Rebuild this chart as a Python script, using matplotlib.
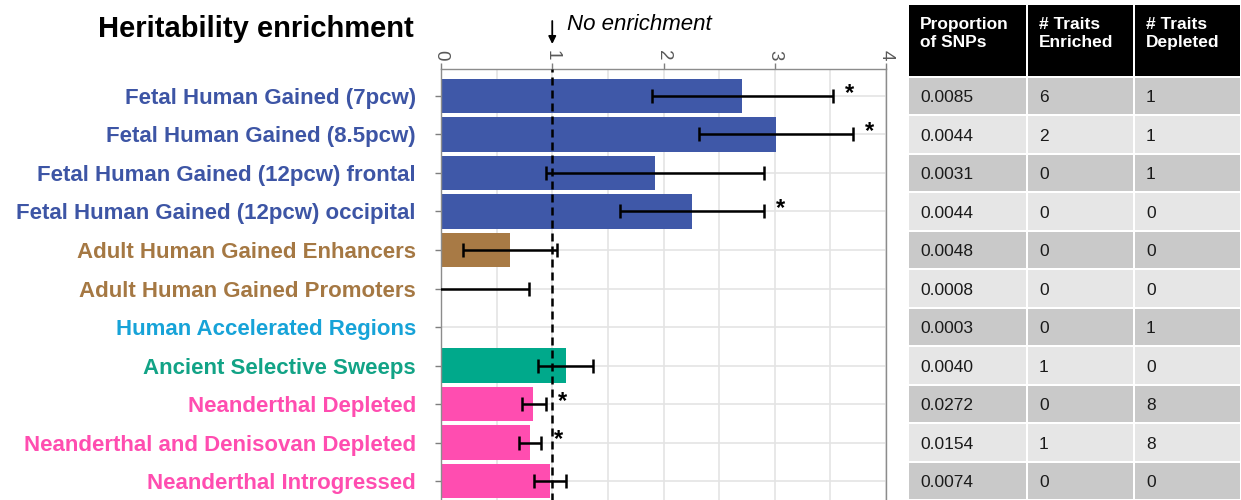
import matplotlib
matplotlib.use("Agg")
import matplotlib.pyplot as plt
import numpy as np
from matplotlib.patches import Rectangle

plt.rcParams['font.family'] = ['Liberation Sans', 'DejaVu Sans']

# ---------------- data ----------------
categories = [
    "Fetal Human Gained (7pcw)",
    "Fetal Human Gained (8.5pcw)",
    "Fetal Human Gained (12pcw) frontal",
    "Fetal Human Gained (12pcw) occipital",
    "Adult Human Gained Enhancers",
    "Adult Human Gained Promoters",
    "Human Accelerated Regions",
    "Ancient Selective Sweeps",
    "Neanderthal Depleted",
    "Neanderthal and Denisovan Depleted",
    "Neanderthal Introgressed",
]
groups = ["fetal", "fetal", "fetal", "fetal", "adult", "adult", "har",
          "sweep", "archaic", "archaic", "archaic"]
enrichment = [2.71, 3.01, 1.92, 2.26, 0.62, 0.0, np.nan, 1.12, 0.83, 0.80, 0.98]
ci_low = [1.90, 2.32, 0.94, 1.61, 0.20, -0.30, np.nan, 0.87, 0.73, 0.70, 0.84]
ci_high = [3.52, 3.70, 2.90, 2.90, 1.04, 0.79, np.nan, 1.37, 0.94, 0.90, 1.12]
significant = [True, True, False, True, False, False, False, False, True, True, False]

prop_snps = ["0.0085", "0.0044", "0.0031", "0.0044", "0.0048", "0.0008",
             "0.0003", "0.0040", "0.0272", "0.0154", "0.0074"]
traits_enriched = [6, 2, 0, 0, 0, 0, 0, 1, 0, 1, 0]
traits_depleted = [1, 1, 1, 0, 0, 0, 1, 0, 8, 8, 0]
table_headers = ["Proportion\nof SNPs", "# Traits\nEnriched", "# Traits\nDepleted"]
x_ticks = [0, 1, 2, 3, 4]

bar_colors = {"fetal": "#3F58A8", "adult": "#A87A45", "har": "#1BA1D8",
              "sweep": "#00A98B", "archaic": "#FF4DB0"}
label_colors = {"fetal": "#3D55A5", "adult": "#A57843", "har": "#17A3D8",
                "sweep": "#12A386", "archaic": "#FF4DB0"}

# ---------------- figure ----------------
W, H = 1241, 500
fig = plt.figure(figsize=(W / 100, H / 100), dpi=100)

ax_left, ax_right = 441, 886
ax_top, ax_bot = 69, 508
ax = fig.add_axes([ax_left / W, 1 - ax_bot / H, (ax_right - ax_left) / W,
                   (ax_bot - ax_top) / H])

y = np.arange(len(categories))
vals = np.nan_to_num(np.array(enrichment, dtype=float))
cols = [bar_colors[g] for g in groups]
ax.barh(y, vals, height=0.89, color=cols, zorder=2)

lo = np.array(ci_low, dtype=float)
hi = np.array(ci_high, dtype=float)
ctr = np.array(enrichment, dtype=float)
mask = ~np.isnan(ctr)
ax.errorbar(ctr[mask], y[mask], xerr=[ctr[mask] - lo[mask], hi[mask] - ctr[mask]],
            fmt="none", ecolor="black", elinewidth=1.8, capsize=5, capthick=1.8,
            zorder=4)

for yi, h, s in zip(y, hi, significant):
    if s:
        ax.annotate("*", xy=(h, yi), xytext=(9, 2), textcoords="offset points",
                    ha="left", va="center", fontsize=17, fontweight="bold",
                    color="black", zorder=5)

ax.axvline(1, color="black", lw=1.8, ls=(0, (3.2, 2.0)), zorder=3)

ax.set_xlim(0, 4)
ax.set_ylim(10.70, -0.70)
ax.xaxis.tick_top()
ax.set_xticks(x_ticks)
ax.set_xticklabels([str(t) for t in x_ticks], rotation=-90, fontsize=13.5,
                   color="#595959")
ax.set_xticks(np.arange(0.5, 4, 1), minor=True)
ax.tick_params(axis="x", which="major", length=4, width=1, color="#7f7f7f", pad=2)
ax.tick_params(axis="x", which="minor", length=0)
ax.set_yticks(y)
ax.set_yticklabels(categories, fontsize=16, fontweight="bold")
for lab, g in zip(ax.get_yticklabels(), groups):
    lab.set_color(label_colors[g])
ax.tick_params(axis="y", length=4, width=1, color="#7f7f7f", pad=14)
ax.grid(True, which="both", color="#E4E4E4", lw=1.2, zorder=0)
ax.set_axisbelow(True)
for side in ["top", "left", "right"]:
    ax.spines[side].set_color("#8c8c8c")
    ax.spines[side].set_linewidth(1)
ax.spines["bottom"].set_visible(False)

# title and annotation
units_per_px = (10.70 + 0.70) / (ax_bot - ax_top)
fig.text(256 / W, 1 - 29 / H, "Heritability enrichment", ha="center", va="center",
         fontsize=21, fontweight="bold", color="black")
ax.annotate("", xy=(1, -0.70 - 25 * units_per_px), xycoords="data",
            xytext=(1, -0.70 - 48 * units_per_px), textcoords="data",
            arrowprops=dict(arrowstyle="-|>", color="black", lw=1.3,
                            mutation_scale=11, shrinkA=0, shrinkB=0),
            annotation_clip=False)
ax.text(1.13, -0.70 - 44 * units_per_px, "No enrichment", ha="left", va="center",
        fontsize=16, fontstyle="italic", color="black", clip_on=False)

# ---------------- table ----------------
t_left, t_top = 908, 5
tax = fig.add_axes([t_left / W, 1 - ax_bot / H, (W - t_left) / W, (ax_bot - t_top) / H])
y_top = -0.70 - (ax_top - t_top) * units_per_px
tax.set_ylim(10.70, y_top)
col_w = [119, 107, 107]
tax.set_xlim(0, sum(col_w))
tax.axis("off")
col_x = np.concatenate([[0], np.cumsum(col_w)])
gap = 1.0
header_bottom = -0.5
for j in range(3):
    tax.add_patch(Rectangle((col_x[j] + gap, y_top), col_w[j] - 2 * gap,
                            header_bottom - y_top - 0.03, color="black", lw=0))
    tax.text(col_x[j] + 12, y_top + 0.30, table_headers[j], ha="left", va="top",
             fontsize=12.5, fontweight="bold", color="white", linespacing=1.3)
rows = list(zip(prop_snps, traits_enriched, traits_depleted))
for i, row in enumerate(rows):
    fc = "#C9C9C9" if i % 2 == 0 else "#E6E6E6"
    for j, v in enumerate(row):
        tax.add_patch(Rectangle((col_x[j] + gap, i - 0.5 + 0.03), col_w[j] - 2 * gap,
                                0.94, color=fc, lw=0))
        tax.text(col_x[j] + 12, i + 0.05, str(v), ha="left", va="center",
                 fontsize=12.5, color="#1a1a1a")

fig.savefig("out.png", dpi=100)
